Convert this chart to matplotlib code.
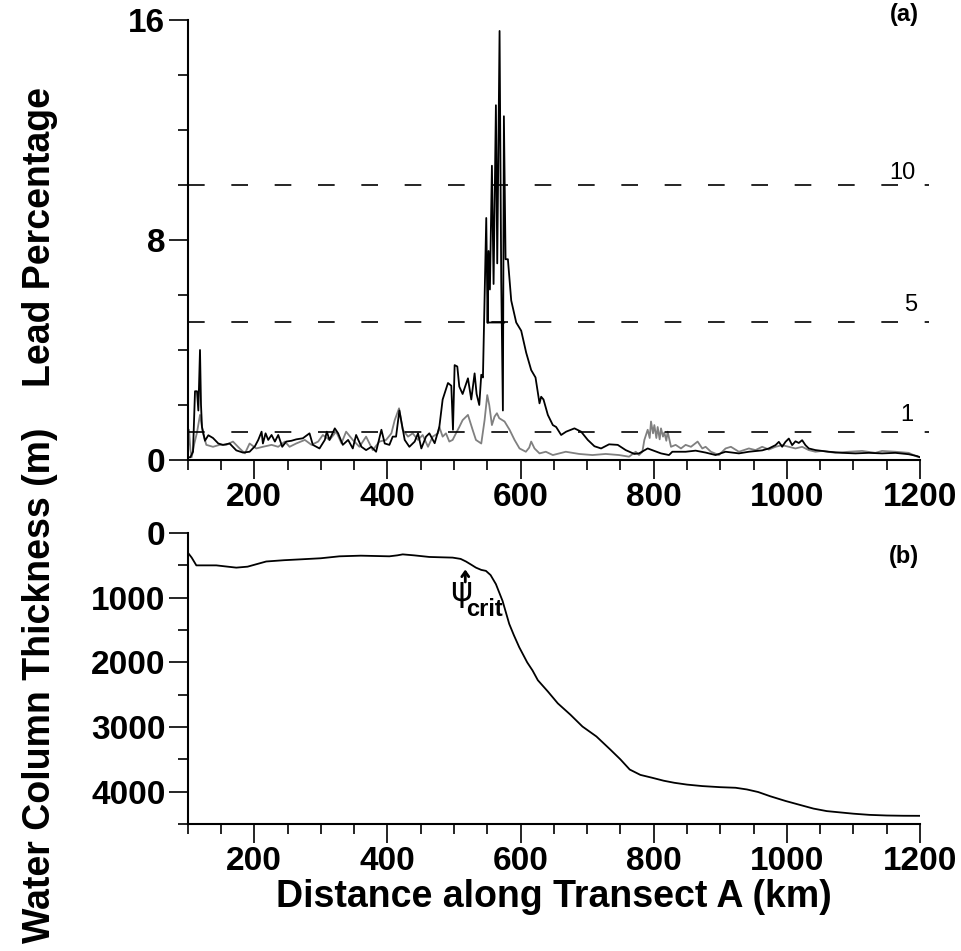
import numpy as np
import matplotlib
matplotlib.use("Agg")
import matplotlib.pyplot as plt
from matplotlib.ticker import MultipleLocator

plt.rcParams['font.family'] = ['Liberation Sans', 'DejaVu Sans']
plt.rcParams['font.weight'] = 'bold'

nan = float('nan')

# (a) lead percentage along the transect, black series
black_km = [100, 104, 108, 111, 114, 116, 118.5, 120, 121.5, 126, 131, 138, 146, 153, 163, 173,
            183, 193, 201, 206, 211, 213, 217, 221, 226, 231, 236, 242, 248, 256, 263, 273,
            283, 288, 298, 306, 309, 313, 321, 326, 333, 341, 348, 353, 361, 368, 376, 383,
            391, 396, 403, 408, 413, 418, 426, 433, 441, 446, 451, 458, 463, 471, 478, 483,
            491, 496, 498.5, 501, 505, 508, 513, 521, 526, 531, 534, 538, 541, 543.5, 548.5,
            550.5, 575.5, nan, 550.5, 552, 554, 557, 559.5, 563, 565, 568.5, 571, 573.5, 575,
            577.5, 581, 586, 593.5, 601, 608.5, 616, 622.5, 628.5, 631, 634.5, 641, 648.5,
            653.5, 661, 668.5, 681, 691, 701, 711, 721, 733, 746, 758, 771, 778, 791, 801,
            811, 823, 828, 848, 863, 878, 893, 908, 928, 943, 963, 973, 983, 988, 993, 998,
            1003, 1008, 1013, 1018, 1023, 1028, 1033, 1043, 1063, 1083, 1103, 1123, 1143,
            1163, 1183, 1196, 1200]
black_pct = [0.1, 0.1, 0.3, 2.5, 2.5, 1.8, 4.0, 2.0, 1.2, 0.7, 0.9, 0.8, 0.6, 0.55, 0.6, 0.35,
             0.27, 0.3, 0.5, 0.73, 1.03, 0.6, 0.97, 0.73, 0.91, 0.67, 0.91, 0.48, 0.67, 0.7, 0.75, 0.79,
             0.97, 0.55, 0.42, 0.73, 1.03, 0.73, 1.15, 0.97, 0.55, 0.73, 0.42, 0.91, 0.48, 0.36, 0.48, 0.3,
             1.1, 0.6, 0.55, 0.85, 0.85, 1.8, 0.73, 0.48, 0.67, 0.97, 0.42, 0.85, 0.97, 0.61, 1.2, 2.2,
             2.8, 2.7, 1.1, 3.45, 3.4, 2.67, 2.4, 2.97, 2.2, 3.15, 2.4, 2.0, 3.1, 3.0, 8.8,
             5.0, 5.0, nan, 5.0, 7.6, 6.2, 10.7, 6.4, 12.9, 7.15, 15.6, 6.5, 1.8, 12.5,
             7.3, 7.3, 5.8, 5.0, 4.7, 3.9, 3.27, 3.0, 2.06, 2.3, 2.2, 1.64, 1.27,
             1.2, 0.91, 1.03, 1.15, 1.03, 0.73, 0.5, 0.42, 0.57, 0.55, 0.36, 0.22, 0.24, 0.42, 0.33,
             0.24, 0.18, 0.3, 0.3, 0.34, 0.27, 0.18, 0.3, 0.24, 0.3, 0.35, 0.42, 0.54, 0.66, 0.48, 0.66,
             0.78, 0.54, 0.68, 0.62, 0.72, 0.54, 0.42, 0.36, 0.3, 0.26, 0.24, 0.26, 0.24,
             0.26, 0.21, 0.14, 0.1]

# (a) grey series
grey_km = [100, 102, 104, 106, 110, 114, 118.5, 123, 128, 138, 148, 158, 168, 178, 186, 193,
           203, 213, 226, 236, 246, 253, 263, 276, 286, 296, 303, 313, 323, 331, 338, 348,
           358, 368, 378, 388, 398, 406, 411, 417.5, 423, 431, 438, 446, 453, 461, 468, 476,
           478, 483, 488, 493, 498, 503, 508, 513, 521, 528, 533, 541, 546, 550, 553, 557,
           561, 564.5, 568, 576, 583.5, 591, 598.5, 608, 613, 616, 621, 628.5, 638, 648.5,
           658, 668, 688, 708, 728, 748, 763, 773, 778, 783, 786, 791, 794, 796, 799, 801,
           804, 806, 809, 811, 814, 816, 819, 821, 826, 833, 841, 848, 856, 866, 873, 878,
           886, 898, 908, 916, 928, 943, 953, 963, 973, 983, 993, 1003, 1013, 1023, 1033,
           1043, 1053, 1073, 1093, 1113, 1133, 1143, 1163, 1183, 1196, 1200]
grey_pct = [0.2, 1.1, 0.4, 0.1, 0.6, 1.0, 1.64, 0.97, 0.55, 0.48, 0.55, 0.55, 0.67, 0.42, 0.24, 0.6,
            0.42, 0.48, 0.55, 0.48, 0.67, 0.48, 0.6, 0.73, 0.55, 0.67, 0.91, 0.73, 1.03, 0.61, 1.03, 0.73,
            0.48, 0.85, 0.36, 0.67, 0.73, 0.97, 1.45, 1.88, 1.1, 0.85, 0.97, 0.73, 0.91, 0.48, 0.85, 0.97,
            1.2, 0.85, 0.97, 0.67, 0.73, 0.97, 1.2, 1.45, 1.64, 1.1, 0.73, 0.6, 1.45, 2.36, 2.0, 1.27,
            1.58, 1.7, 1.52, 1.4, 1.1, 0.73, 0.42, 0.3, 0.45, 0.67, 0.42, 0.24, 0.3, 0.18,
            0.24, 0.3, 0.22, 0.18, 0.22, 0.18, 0.12, 0.3, 0.18, 0.3, 0.73, 1.1, 0.8, 1.4, 0.97, 1.27,
            0.8, 1.2, 0.75, 1.15, 0.85, 1.0, 0.7, 1.03, 0.48, 0.55, 0.42, 0.55, 0.48, 0.67, 0.42, 0.48,
            0.3, 0.18, 0.42, 0.48, 0.3, 0.42, 0.36, 0.48, 0.38, 0.48, 0.54, 0.48, 0.42, 0.48, 0.36,
            0.3, 0.33, 0.26, 0.3, 0.33, 0.26, 0.33, 0.3, 0.26, 0.12, 0.1]

ref_levels = [10, 5, 1]
ref_labels = ['10', '5', '1']

# (b) water column thickness
depth_km = [100, 106, 113, 125, 143, 160, 173, 190, 218, 245, 273, 300, 328, 360, 403, 415,
            423, 440, 463, 480, 498, 510, 518, 526, 533, 541, 548, 555, 563, 573, 583, 590,
            598, 610, 618, 626, 641, 656, 675, 693, 714, 735, 750, 764, 780, 798, 815, 831,
            850, 873, 900, 923, 940, 957, 975, 998, 1020, 1040, 1060, 1082, 1100, 1124, 1150,
            1175, 1200]
depth_m = [300, 380, 500, 500, 500, 520, 535, 520, 440, 420, 405, 390, 360, 350, 360, 345,
           330, 345, 370, 375, 380, 400, 440, 490, 535, 570, 585, 650, 790, 1050, 1405, 1580,
           1765, 2000, 2125, 2276, 2450, 2634, 2810, 2992, 3146, 3350, 3500, 3657, 3740, 3785, 3830, 3862,
           3890, 3913, 3930, 3939, 3965, 4005, 4070, 4143, 4205, 4261, 4300, 4322, 4340, 4358, 4368,
           4372, 4373]

fig = plt.figure(figsize=(9.62, 9.51), dpi=100)
ax1 = fig.add_axes([0.1951, 0.5163, 0.7612, 0.4627])
ax2 = fig.add_axes([0.1951, 0.1335, 0.7612, 0.3060])


def style_axis(ax):
    for side in ['top', 'right']:
        ax.spines[side].set_visible(False)
    for side in ['left', 'bottom']:
        ax.spines[side].set_linewidth(1.5)
    ax.tick_params(which='major', direction='out', length=14, width=1.2, labelsize=24, pad=2)
    ax.tick_params(which='minor', direction='out', length=7, width=1.2)
    ax.xaxis.set_major_locator(MultipleLocator(200))
    ax.xaxis.set_minor_locator(MultipleLocator(50))
    ax.set_xlim(100, 1200)


# panel (a)
style_axis(ax1)
ax1.plot(grey_km, grey_pct, color='#808080', lw=1.3)
ax1.plot(black_km, black_pct, color='black', lw=1.3)
for lev, lab in zip(ref_levels, ref_labels):
    ax1.plot([100, 1214], [lev, lev], color='black', lw=1.2, linestyle=(0, (10, 16)), clip_on=False)
ax1.text(1173, 10.45, ref_labels[0], fontsize=17, fontweight='normal', ha='center', va='center')
ax1.text(1186, 5.65, ref_labels[1], fontsize=17, fontweight='normal', ha='center', va='center')
ax1.text(1180, 1.65, ref_labels[2], fontsize=17, fontweight='normal', ha='center', va='center')
ax1.set_ylim(0, 16)
ax1.yaxis.set_major_locator(MultipleLocator(8))
ax1.yaxis.set_minor_locator(MultipleLocator(2))
ax1.text(1176, 16.2, '(a)', fontsize=17, fontweight='bold', ha='center', va='center', clip_on=False)

# panel (b)
style_axis(ax2)
ax2.plot(depth_km, depth_m, color='black', lw=1.3)
ax2.set_ylim(4500, 0)
ax2.yaxis.set_major_locator(MultipleLocator(1000))
ax2.yaxis.set_minor_locator(MultipleLocator(500))
ax2.annotate('', xy=(517, 520), xytext=(517, 800),
             arrowprops=dict(arrowstyle='->,head_width=0.25,head_length=0.35', lw=2, color='black'))
ax2.text(511, 900, 'ψ', fontsize=24, fontweight='normal', ha='center', va='center',
         family=['DejaVu Sans'])
ax2.text(546, 1190, 'crit', fontsize=17, fontweight='bold', ha='center', va='center')
ax2.text(1176, 360, '(b)', fontsize=17, fontweight='bold', ha='center', va='center')
ax2.set_xlabel('Distance along Transect A (km)', fontsize=27, fontweight='bold', labelpad=1)

fig.text(0.042, 1 - 237 / 951, 'Lead Percentage', rotation=90, fontsize=27,
         fontweight='bold', ha='center', va='center')
fig.text(0.042, 1 - 685 / 951, 'Water Column Thickness (m)', rotation=90, fontsize=27,
         fontweight='bold', ha='center', va='center')

fig.savefig('out.png', dpi=100)
